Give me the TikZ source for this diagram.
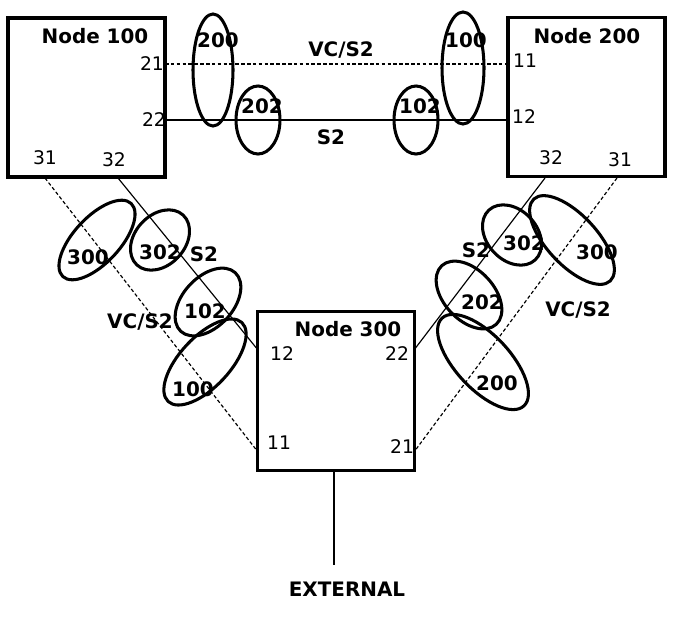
\documentclass[tikz,border=0pt]{standalone}
\usepackage{fontspec}
\setmainfont{DejaVu Sans}
\tikzset{
  box/.style={draw, line width=2.8pt, minimum width=157*0.3mm, minimum height=159*0.3mm, inner sep=0pt},
  ring/.style={line width=2.6pt},
  lbl/.style={font=\fontsize{17}{19}\selectfont\bfseries, inner sep=0pt},
  port/.style={font=\fontsize{16}{18}\selectfont, inner sep=0pt},
  link/.style={line width=1pt},
  vlink/.style={link, dash pattern=on 3pt off 2pt},
}
\begin{document}
\begin{tikzpicture}[x=0.3mm, y=-0.3mm]
\useasboundingbox (0,0) rectangle (683,619);
% nodes
\node[box] (n100) at (86.5,97.5) {};
\node[box] (n200) at (586.5,97) {};
\node[box] (n300) at (336,391) {};
\node[lbl] (t100) at (95,36) {Node 100};
\node[lbl] (t200) at (587,36) {Node 200};
\node[lbl] (t300) at (348,329) {Node 300};
% ports
\coordinate (p21a) at (165,64);
\coordinate (p22a) at (165,120);
\coordinate (p31a) at (45,178);
\coordinate (p32a) at (118,178);
\coordinate (p11b) at (508,64);
\coordinate (p12b) at (508,120);
\coordinate (p32b) at (545,178);
\coordinate (p31b) at (617,178);
\coordinate (p12c) at (258,350);
\coordinate (p11c) at (258,452);
\coordinate (p22c) at (414,350);
\coordinate (p21c) at (414,452);
\coordinate (pext) at (334,470);
\coordinate (ext) at (334,565);
\node[port] at (152,64) {21};
\node[port] at (154,120) {22};
\node[port] at (45,158) {31};
\node[port] at (114,160) {32};
\node[port] at (525,61) {11};
\node[port] at (524,117) {12};
\node[port] at (551,158) {32};
\node[port] at (620,160) {31};
\node[port] at (282,354) {12};
\node[port] at (397,354) {22};
\node[port] at (279,443) {11};
\node[port] at (402,447) {21};
% links
\draw[vlink] (p21a) -- (p11b);
\draw[link] (p22a) -- (p12b);
\draw[vlink] (p31a) -- (p11c);
\draw[link] (p32a) -- (p12c);
\draw[link] (p32b) -- (p22c);
\draw[vlink] (p31b) -- (p21c);
\draw[link] (pext) -- (ext);
\node[lbl] (ttop1) at (341,50) {VC/S2};
\node[lbl] (ttop2) at (331,137) {S2};
\node[lbl] (tl1) at (204,254) {S2};
\node[lbl] (tl2) at (140,322) {VC/S2};
\node[lbl] (tr1) at (476,250) {S2};
\node[lbl] (tr2) at (578,310) {VC/S2};
\node[lbl] (text) at (347,589) {EXTERNAL};
% rings
\draw[ring] (213,70) ellipse [x radius=20, y radius=56];
\draw[ring] (258,120) ellipse [x radius=22, y radius=34];
\draw[ring] (416,120) ellipse [x radius=22, y radius=34];
\draw[ring] (463,68) ellipse [x radius=21, y radius=56];
\draw[ring, rotate around={47:(97,240)}] (97,240) ellipse [x radius=50, y radius=23];
\draw[ring, rotate around={47:(160,240)}] (160,240) ellipse [x radius=34, y radius=25];
\draw[ring, rotate around={47:(208,302)}] (208,302) ellipse [x radius=40, y radius=25];
\draw[ring, rotate around={47:(205,362)}] (205,362) ellipse [x radius=54, y radius=25];
\draw[ring, rotate around={-47:(512,235)}] (512,235) ellipse [x radius=34, y radius=25];
\draw[ring, rotate around={-47:(572,240)}] (572,240) ellipse [x radius=56, y radius=25];
\draw[ring, rotate around={-47:(469,295)}] (469,295) ellipse [x radius=40, y radius=25];
\draw[ring, rotate around={-47:(483,362)}] (483,362) ellipse [x radius=60, y radius=27];
\node[lbl] (r1) at (218,40) {200};
\node[lbl] (r2) at (262,106) {202};
\node[lbl] (r3) at (420,106) {102};
\node[lbl] (r4) at (466,40) {100};
\node[lbl] (r5) at (88,257) {300};
\node[lbl] (r6) at (160,252) {302};
\node[lbl] (r7) at (205,311) {102};
\node[lbl] (r8) at (193,389) {100};
\node[lbl] (r9) at (524,243) {302};
\node[lbl] (r10) at (597,252) {300};
\node[lbl] (r11) at (482,302) {202};
\node[lbl] (r12) at (497,383) {200};
\end{tikzpicture}
\end{document}
